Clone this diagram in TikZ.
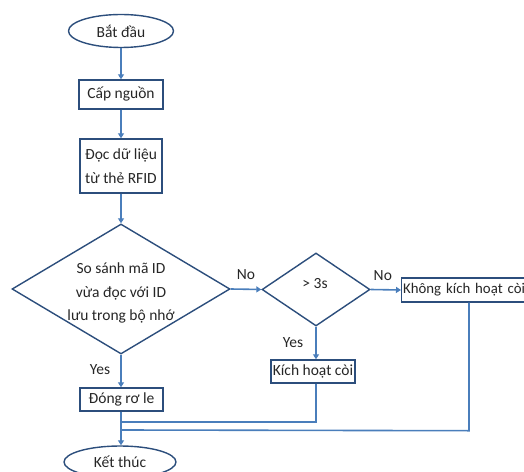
\documentclass[tikz,border=0pt]{standalone}
\usepackage{fontspec}
\setmainfont{Carlito}
\usetikzlibrary{shapes.geometric,arrows.meta,calc}
\definecolor{edgeblue}{RGB}{44,78,124}
\definecolor{lineblue}{RGB}{74,126,187}
\begin{document}
\begin{tikzpicture}[x=1bp,y=-1bp,
  every node/.style={font=\fontsize{15.5bp}{23.5bp}\selectfont, text=black!85},
  box/.style={draw=edgeblue, line width=1.4bp, rectangle, inner sep=1bp, fill=white},
  term/.style={draw=edgeblue, line width=1.4bp, ellipse, inner sep=0bp, fill=white},
  decide/.style={draw=edgeblue, line width=1.4bp, diamond, inner sep=0bp, align=center, fill=white},
  conn/.style={draw=lineblue, line width=1.6bp},
  arr/.style={conn, -{Triangle[width=6bp,length=5bp]}},
  lbl/.style={inner sep=0bp}
]
\useasboundingbox (0,0) rectangle (524,472);
\clip (0,0) rectangle (524,472);

\node[term, minimum width=105bp, minimum height=33bp] (start) at (121,31) {Bắt đầu};
\node[box, minimum width=84bp, minimum height=29bp] (cap) at (121,94.5) {Cấp nguồn};
\node[box, minimum width=82bp, minimum height=54bp, align=center] (doc) at (121,166) {Đọc dữ liệu\\từ thẻ RFID};
\node[decide, minimum width=218bp, minimum height=130bp, shape aspect=1.677] (d1) at (121,289) {};
\node[lbl, align=center] (d1t) at (121,293) {So sánh mã ID\\vừa đọc với ID\\lưu trong bộ nhớ};
\node[decide, minimum width=108bp, minimum height=73bp, shape aspect=1.48] (d2) at (316,289.5) {};
\node[lbl] (d2t) at (315,284) {> 3s};
\node[box, minimum width=140bp, minimum height=24bp, text width=137bp, align=left, inner xsep=1bp, anchor=west, font=\fontsize{14.8bp}{18bp}\selectfont] (khong) at (401,290) {Không kích hoạt còi};
\node[box, minimum width=84bp, minimum height=23bp] (kich) at (313,371.5) {Kích hoạt còi};
\node[box, minimum width=83bp, minimum height=23bp] (dong) at (121.5,399.5) {Đóng rơ le};
\node[term, minimum width=112bp, minimum height=32bp] (end) at (120,462) {Kết thúc};

\draw[arr] (start.south) -- (cap.north);
\draw[arr] (cap.south) -- (doc.north);
\draw[arr] (doc.south) -- (d1.north);
\draw[arr] (d1.east) -- (d2.west) node[lbl, pos=0.5, above=9bp] (no1) {No};
\draw[arr] (d2.east) -- (khong.west) node[lbl, pos=0.4, above=8bp] (no2) {No};
\draw[arr] (d2.south) -- (d2.south |- kich.north) node[lbl, pos=0.5, left=12bp] (yes2) {Yes};
\draw[arr] (d1.south) -- (d1.south |- dong.north) node[lbl, pos=0.45, left=10bp] (yes1) {Yes};
\draw[arr] (d1.south |- dong.south) -- (end.north -| d1.south);
\coordinate (kdrop) at ([xshift=68bp]khong.south west);
\draw[conn] (d2.south |- kich.south) -- ++(0,38) -| (d1.south |- dong.south);
\draw[conn] (kdrop) -- ++(0,128) -- (d1.south |- 0,430);
\end{tikzpicture}
\end{document}
